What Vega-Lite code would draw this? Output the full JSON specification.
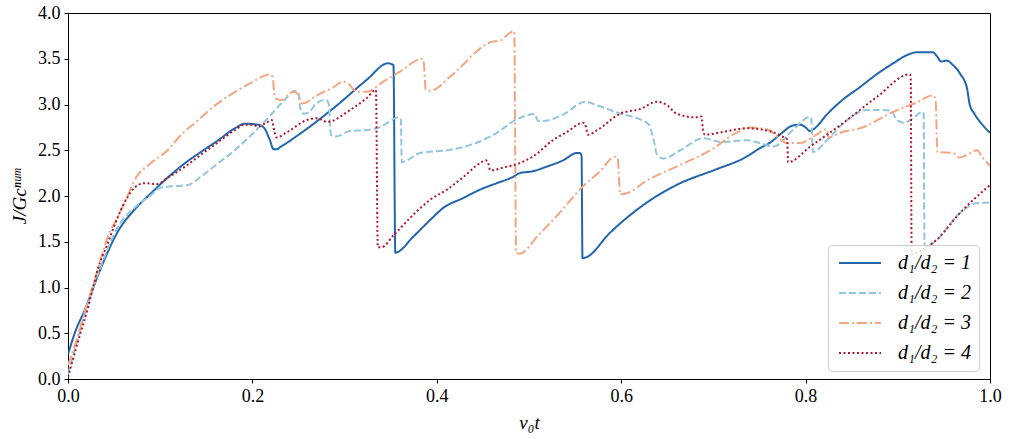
{
  "$schema": "https://vega.github.io/schema/vega-lite/v6.json",
  "width": 922,
  "height": 366,
  "autosize": "none",
  "padding": {"left": 68, "top": 13, "right": 19, "bottom": 60},
  "background": "white",
  "data": {
    "values": [
      {"k":1,"x":0,"y":0.27},{"k":1,"x":0.008,"y":0.52},{"k":1,"x":0.018,"y":0.75},{"k":1,"x":0.036,"y":1.22},{"k":1,"x":0.054,"y":1.61},{"k":1,"x":0.072,"y":1.85},{"k":1,"x":0.09,"y":2.03},{"k":1,"x":0.108,"y":2.2},{"k":1,"x":0.127,"y":2.36},{"k":1,"x":0.144,"y":2.48},{"k":1,"x":0.163,"y":2.61},{"k":1,"x":0.181,"y":2.74},{"k":1,"x":0.192,"y":2.79},{"k":1,"x":0.206,"y":2.78},{"k":1,"x":0.213,"y":2.74},{"k":1,"x":0.219,"y":2.61},{"k":1,"x":0.223,"y":2.51},{"k":1,"x":0.226,"y":2.51},{"k":1,"x":0.231,"y":2.54},{"k":1,"x":0.253,"y":2.69},{"k":1,"x":0.288,"y":2.96},{"k":1,"x":0.324,"y":3.27},{"k":1,"x":0.347,"y":3.45},{"k":1,"x":0.353,"y":3.43},{"k":1,"x":0.355,"y":1.38},{"k":1,"x":0.358,"y":1.39},{"k":1,"x":0.374,"y":1.55},{"k":1,"x":0.393,"y":1.74},{"k":1,"x":0.407,"y":1.87},{"k":1,"x":0.429,"y":1.98},{"k":1,"x":0.447,"y":2.07},{"k":1,"x":0.465,"y":2.14},{"k":1,"x":0.483,"y":2.21},{"k":1,"x":0.49,"y":2.25},{"k":1,"x":0.504,"y":2.27},{"k":1,"x":0.519,"y":2.32},{"k":1,"x":0.537,"y":2.39},{"k":1,"x":0.552,"y":2.47},{"k":1,"x":0.555,"y":2.47},{"k":1,"x":0.557,"y":2.44},{"k":1,"x":0.558,"y":1.32},{"k":1,"x":0.562,"y":1.33},{"k":1,"x":0.588,"y":1.6},{"k":1,"x":0.628,"y":1.93},{"k":1,"x":0.664,"y":2.14},{"k":1,"x":0.7,"y":2.28},{"k":1,"x":0.736,"y":2.43},{"k":1,"x":0.75,"y":2.52},{"k":1,"x":0.761,"y":2.58},{"k":1,"x":0.772,"y":2.67},{"k":1,"x":0.786,"y":2.77},{"k":1,"x":0.794,"y":2.78},{"k":1,"x":0.8,"y":2.75},{"k":1,"x":0.805,"y":2.71},{"k":1,"x":0.81,"y":2.74},{"k":1,"x":0.823,"y":2.89},{"k":1,"x":0.84,"y":3.05},{"k":1,"x":0.859,"y":3.19},{"k":1,"x":0.877,"y":3.33},{"k":1,"x":0.895,"y":3.45},{"k":1,"x":0.91,"y":3.54},{"k":1,"x":0.92,"y":3.57},{"k":1,"x":0.93,"y":3.57},{"k":1,"x":0.938,"y":3.57},{"k":1,"x":0.943,"y":3.52},{"k":1,"x":0.947,"y":3.47},{"k":1,"x":0.953,"y":3.48},{"k":1,"x":0.96,"y":3.43},{"k":1,"x":0.968,"y":3.33},{"k":1,"x":0.975,"y":3.18},{"k":1,"x":0.978,"y":3.0},{"k":1,"x":0.983,"y":2.9},{"k":1,"x":0.99,"y":2.8},{"k":1,"x":1.0,"y":2.69},

      {"k":2,"x":0,"y":0.05},{"k":2,"x":0.01,"y":0.42},{"k":2,"x":0.02,"y":0.78},{"k":2,"x":0.036,"y":1.24},{"k":2,"x":0.054,"y":1.66},{"k":2,"x":0.072,"y":1.87},{"k":2,"x":0.09,"y":2.01},{"k":2,"x":0.1,"y":2.09},{"k":2,"x":0.119,"y":2.11},{"k":2,"x":0.13,"y":2.12},{"k":2,"x":0.144,"y":2.21},{"k":2,"x":0.163,"y":2.36},{"k":2,"x":0.181,"y":2.5},{"k":2,"x":0.199,"y":2.67},{"k":2,"x":0.213,"y":2.81},{"k":2,"x":0.235,"y":3.05},{"k":2,"x":0.246,"y":3.15},{"k":2,"x":0.25,"y":3.13},{"k":2,"x":0.252,"y":2.95},{"k":2,"x":0.256,"y":2.9},{"k":2,"x":0.262,"y":2.92},{"k":2,"x":0.27,"y":3.02},{"k":2,"x":0.28,"y":3.05},{"k":2,"x":0.283,"y":3.0},{"k":2,"x":0.285,"y":2.67},{"k":2,"x":0.29,"y":2.65},{"k":2,"x":0.306,"y":2.71},{"k":2,"x":0.324,"y":2.72},{"k":2,"x":0.335,"y":2.74},{"k":2,"x":0.35,"y":2.82},{"k":2,"x":0.358,"y":2.86},{"k":2,"x":0.361,"y":2.84},{"k":2,"x":0.362,"y":2.37},{"k":2,"x":0.382,"y":2.47},{"k":2,"x":0.411,"y":2.5},{"k":2,"x":0.44,"y":2.57},{"k":2,"x":0.465,"y":2.69},{"k":2,"x":0.487,"y":2.84},{"k":2,"x":0.501,"y":2.89},{"k":2,"x":0.506,"y":2.9},{"k":2,"x":0.51,"y":2.82},{"k":2,"x":0.515,"y":2.82},{"k":2,"x":0.537,"y":2.89},{"k":2,"x":0.561,"y":3.03},{"k":2,"x":0.574,"y":2.99},{"k":2,"x":0.599,"y":2.9},{"k":2,"x":0.62,"y":2.84},{"k":2,"x":0.63,"y":2.78},{"k":2,"x":0.635,"y":2.62},{"k":2,"x":0.639,"y":2.45},{"k":2,"x":0.646,"y":2.41},{"k":2,"x":0.664,"y":2.5},{"k":2,"x":0.689,"y":2.63},{"k":2,"x":0.71,"y":2.59},{"k":2,"x":0.736,"y":2.61},{"k":2,"x":0.75,"y":2.58},{"k":2,"x":0.765,"y":2.54},{"k":2,"x":0.786,"y":2.72},{"k":2,"x":0.804,"y":2.86},{"k":2,"x":0.806,"y":2.86},{"k":2,"x":0.808,"y":2.48},{"k":2,"x":0.823,"y":2.61},{"k":2,"x":0.845,"y":2.83},{"k":2,"x":0.866,"y":2.94},{"k":2,"x":0.884,"y":2.94},{"k":2,"x":0.893,"y":2.93},{"k":2,"x":0.899,"y":2.83},{"k":2,"x":0.907,"y":2.8},{"k":2,"x":0.915,"y":2.84},{"k":2,"x":0.927,"y":2.92},{"k":2,"x":0.928,"y":2.9},{"k":2,"x":0.929,"y":1.44},{"k":2,"x":0.94,"y":1.5},{"k":2,"x":0.967,"y":1.81},{"k":2,"x":0.985,"y":1.92},{"k":2,"x":1.0,"y":1.93},

      {"k":3,"x":0,"y":0.15},{"k":3,"x":0.01,"y":0.45},{"k":3,"x":0.02,"y":0.8},{"k":3,"x":0.029,"y":1.08},{"k":3,"x":0.043,"y":1.55},{"k":3,"x":0.054,"y":1.77},{"k":3,"x":0.065,"y":2.01},{"k":3,"x":0.072,"y":2.17},{"k":3,"x":0.09,"y":2.36},{"k":3,"x":0.108,"y":2.5},{"k":3,"x":0.12,"y":2.64},{"k":3,"x":0.14,"y":2.82},{"k":3,"x":0.162,"y":3.01},{"k":3,"x":0.18,"y":3.13},{"k":3,"x":0.199,"y":3.24},{"k":3,"x":0.212,"y":3.31},{"k":3,"x":0.219,"y":3.33},{"k":3,"x":0.222,"y":3.3},{"k":3,"x":0.224,"y":3.1},{"k":3,"x":0.226,"y":3.06},{"k":3,"x":0.233,"y":3.05},{"k":3,"x":0.24,"y":3.12},{"k":3,"x":0.246,"y":3.14},{"k":3,"x":0.25,"y":3.1},{"k":3,"x":0.254,"y":3.01},{"k":3,"x":0.27,"y":3.1},{"k":3,"x":0.288,"y":3.19},{"k":3,"x":0.298,"y":3.25},{"k":3,"x":0.305,"y":3.22},{"k":3,"x":0.309,"y":3.17},{"k":3,"x":0.315,"y":3.14},{"k":3,"x":0.324,"y":3.14},{"k":3,"x":0.342,"y":3.25},{"k":3,"x":0.36,"y":3.36},{"k":3,"x":0.38,"y":3.49},{"k":3,"x":0.384,"y":3.5},{"k":3,"x":0.386,"y":3.45},{"k":3,"x":0.388,"y":3.16},{"k":3,"x":0.393,"y":3.15},{"k":3,"x":0.414,"y":3.3},{"k":3,"x":0.43,"y":3.45},{"k":3,"x":0.443,"y":3.58},{"k":3,"x":0.458,"y":3.68},{"k":3,"x":0.469,"y":3.7},{"k":3,"x":0.483,"y":3.8},{"k":3,"x":0.484,"y":3.8},{"k":3,"x":0.486,"y":1.38},{"k":3,"x":0.49,"y":1.37},{"k":3,"x":0.51,"y":1.57},{"k":3,"x":0.537,"y":1.86},{"k":3,"x":0.555,"y":2.07},{"k":3,"x":0.578,"y":2.28},{"k":3,"x":0.593,"y":2.43},{"k":3,"x":0.596,"y":2.42},{"k":3,"x":0.599,"y":2.02},{"k":3,"x":0.606,"y":2.03},{"k":3,"x":0.628,"y":2.17},{"k":3,"x":0.664,"y":2.34},{"k":3,"x":0.7,"y":2.52},{"k":3,"x":0.721,"y":2.67},{"k":3,"x":0.74,"y":2.75},{"k":3,"x":0.75,"y":2.74},{"k":3,"x":0.761,"y":2.72},{"k":3,"x":0.769,"y":2.65},{"k":3,"x":0.78,"y":2.58},{"k":3,"x":0.794,"y":2.58},{"k":3,"x":0.81,"y":2.66},{"k":3,"x":0.823,"y":2.73},{"k":3,"x":0.825,"y":2.64},{"k":3,"x":0.84,"y":2.7},{"k":3,"x":0.859,"y":2.74},{"k":3,"x":0.895,"y":2.92},{"k":3,"x":0.92,"y":3.02},{"k":3,"x":0.938,"y":3.1},{"k":3,"x":0.941,"y":3.05},{"k":3,"x":0.943,"y":2.48},{"k":3,"x":0.96,"y":2.47},{"k":3,"x":0.967,"y":2.42},{"k":3,"x":0.975,"y":2.45},{"k":3,"x":0.986,"y":2.5},{"k":3,"x":0.992,"y":2.42},{"k":3,"x":1.0,"y":2.33},

      {"k":4,"x":0,"y":0.02},{"k":4,"x":0.01,"y":0.38},{"k":4,"x":0.022,"y":0.79},{"k":4,"x":0.032,"y":1.19},{"k":4,"x":0.043,"y":1.48},{"k":4,"x":0.054,"y":1.77},{"k":4,"x":0.063,"y":1.96},{"k":4,"x":0.072,"y":2.09},{"k":4,"x":0.083,"y":2.14},{"k":4,"x":0.097,"y":2.13},{"k":4,"x":0.108,"y":2.2},{"k":4,"x":0.127,"y":2.32},{"k":4,"x":0.144,"y":2.45},{"k":4,"x":0.163,"y":2.59},{"k":4,"x":0.181,"y":2.72},{"k":4,"x":0.192,"y":2.78},{"k":4,"x":0.2,"y":2.78},{"k":4,"x":0.206,"y":2.76},{"k":4,"x":0.215,"y":2.8},{"k":4,"x":0.221,"y":2.83},{"k":4,"x":0.224,"y":2.7},{"k":4,"x":0.226,"y":2.64},{"k":4,"x":0.238,"y":2.7},{"k":4,"x":0.259,"y":2.83},{"k":4,"x":0.27,"y":2.85},{"k":4,"x":0.281,"y":2.81},{"k":4,"x":0.306,"y":2.94},{"k":4,"x":0.324,"y":3.07},{"k":4,"x":0.334,"y":3.16},{"k":4,"x":0.336,"y":1.44},{"k":4,"x":0.34,"y":1.44},{"k":4,"x":0.353,"y":1.57},{"k":4,"x":0.374,"y":1.79},{"k":4,"x":0.393,"y":1.96},{"k":4,"x":0.411,"y":2.07},{"k":4,"x":0.429,"y":2.21},{"k":4,"x":0.447,"y":2.36},{"k":4,"x":0.453,"y":2.39},{"k":4,"x":0.456,"y":2.35},{"k":4,"x":0.458,"y":2.28},{"k":4,"x":0.472,"y":2.31},{"k":4,"x":0.49,"y":2.36},{"k":4,"x":0.504,"y":2.43},{"k":4,"x":0.526,"y":2.61},{"k":4,"x":0.541,"y":2.7},{"k":4,"x":0.559,"y":2.8},{"k":4,"x":0.561,"y":2.78},{"k":4,"x":0.564,"y":2.67},{"k":4,"x":0.574,"y":2.72},{"k":4,"x":0.599,"y":2.9},{"k":4,"x":0.62,"y":2.95},{"k":4,"x":0.639,"y":3.03},{"k":4,"x":0.65,"y":2.99},{"k":4,"x":0.66,"y":2.9},{"k":4,"x":0.68,"y":2.86},{"k":4,"x":0.687,"y":2.87},{"k":4,"x":0.689,"y":2.7},{"k":4,"x":0.691,"y":2.67},{"k":4,"x":0.71,"y":2.7},{"k":4,"x":0.736,"y":2.74},{"k":4,"x":0.75,"y":2.73},{"k":4,"x":0.775,"y":2.65},{"k":4,"x":0.78,"y":2.62},{"k":4,"x":0.781,"y":2.37},{"k":4,"x":0.805,"y":2.54},{"k":4,"x":0.841,"y":2.8},{"k":4,"x":0.877,"y":3.08},{"k":4,"x":0.913,"y":3.33},{"k":4,"x":0.914,"y":3.3},{"k":4,"x":0.915,"y":1.36},{"k":4,"x":0.925,"y":1.4},{"k":4,"x":0.942,"y":1.52},{"k":4,"x":0.967,"y":1.81},{"k":4,"x":1.0,"y":2.12}
    ]
  },
  "mark": {"type": "line", "strokeWidth": 2, "clip": true, "interpolate": "monotone"},
  "encoding": {
    "x": {
      "field": "x",
      "type": "quantitative",
      "scale": {"domain": [0, 1], "nice": false},
      "axis": {"values": [0, 0.2, 0.4, 0.6, 0.8, 1.0], "format": ".1f", "labelFlush": false, "title": "v₀t", "titleFontStyle": "italic", "titlePadding": 8}
    },
    "y": {
      "field": "y",
      "type": "quantitative",
      "scale": {"domain": [0, 4], "nice": false},
      "axis": {"values": [0, 0.5, 1, 1.5, 2, 2.5, 3, 3.5, 4], "format": ".1f", "labelFlush": false, "title": "J/Gcⁿᵘᵐ", "titleFontStyle": "italic", "titlePadding": 8}
    },
    "color": {
      "field": "k",
      "type": "nominal",
      "scale": {"domain": [1, 2, 3, 4], "range": ["#2166ac", "#92c5de", "#f4a582", "#b2182b"]},
      "legend": {"title": null, "labelExpr": "'d₁/d₂ = ' + datum.label"}
    },
    "strokeDash": {
      "field": "k",
      "type": "nominal",
      "scale": {"domain": [1, 2, 3, 4], "range": [[1, 0], [7, 3], [10, 3, 2, 3], [2, 2.5]]},
      "legend": {"title": null, "labelExpr": "'d₁/d₂ = ' + datum.label"}
    }
  },
  "config": {
    "view": {"stroke": "black", "strokeWidth": 1},
    "axis": {
      "grid": false,
      "domainColor": "black",
      "tickColor": "black",
      "tickSize": 4,
      "labelColor": "black",
      "labelFont": "Liberation Serif",
      "labelFontSize": 18,
      "labelPadding": 4,
      "titleColor": "black",
      "titleFont": "Liberation Serif",
      "titleFontSize": 19,
      "titleFontWeight": "normal"
    },
    "legend": {
      "orient": "none",
      "legendX": 760,
      "legendY": 232,
      "fillColor": "rgba(255,255,255,0.8)",
      "strokeColor": "#cccccc",
      "cornerRadius": 4,
      "padding": 8,
      "symbolType": "M-3,0H3",
      "symbolSize": 196,
      "symbolStrokeWidth": 2,
      "symbolOffset": 14,
      "labelOffset": 28,
      "rowPadding": 10,
      "labelFont": "Liberation Serif",
      "labelFontStyle": "italic",
      "labelFontSize": 20,
      "labelColor": "black"
    }
  }
}
